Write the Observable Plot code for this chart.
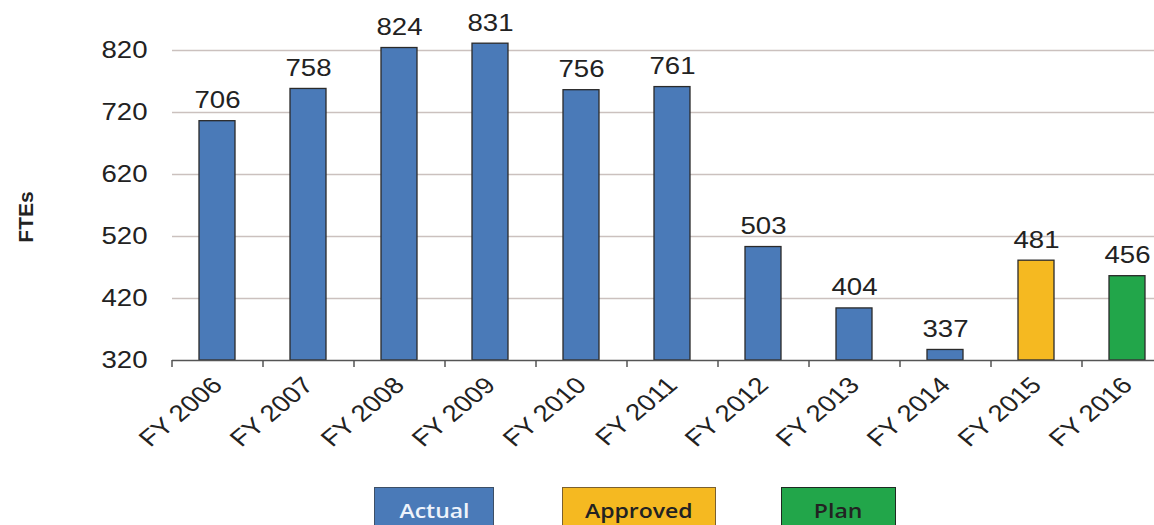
<!DOCTYPE html>
<html>
<head>
<meta charset="utf-8">
<script src="https://cdn.jsdelivr.net/npm/d3@7"></script>
<script src="https://cdn.jsdelivr.net/npm/@observablehq/plot@0.6"></script>
<style>
  html, body { margin: 0; padding: 0; background: #fff; overflow: hidden; width: 1154px; height: 525px; }
  #chart svg { overflow: hidden; display: block; }
  #legend { position: relative; height: 45px; margin-top: 7px; }
  .lg { position: absolute; top: 0; height: 42px; box-sizing: border-box; border: 1.5px solid #333;
        font-family: "Open Sans", "Noto Sans", sans-serif; font-weight: 600; font-size: 20px;
        display: flex; align-items: flex-start; justify-content: center; padding-top: 11px; line-height: 24px; }
  .lg span { display: inline-block; transform: scaleX(1.15); }
</style>
</head>
<body>
<div id="chart"></div>
<div id="legend"></div>
<script>
const years = ["FY 2006","FY 2007","FY 2008","FY 2009","FY 2010","FY 2011","FY 2012","FY 2013","FY 2014","FY 2015","FY 2016"];
const ftes = [706, 758, 824, 831, 756, 761, 503, 404, 337, 481, 456];
const status = ["Actual","Actual","Actual","Actual","Actual","Actual","Actual","Actual","Actual","Approved","Plan"];
const yTicks = [320, 420, 520, 620, 720, 820];
const legendLabels = ["Actual", "Approved", "Plan"];
const legendColors = ["#4a7ab8", "#f5b921", "#22a64a"];

const data = years.map((y, i) => ({year: y, v: ftes[i], s: status[i]}));
const base = yTicks[0];

const W = 1154, H = 480;
const mLeft = 172, mRight = -19, mTop = 19, mBottom = 120;
const step = (W - mRight - mLeft) / years.length;
const SX = 1.2; // horizontal stretch of the reference's lettering

const font = "'Liberation Sans', Arial, sans-serif";

const plot = Plot.plot({
  width: W, height: H,
  marginLeft: mLeft, marginRight: mRight, marginTop: mTop, marginBottom: mBottom,
  style: {fontFamily: font, background: "#fff", color: "#222"},
  x: {domain: years, paddingInner: 0.6, paddingOuter: 0.3, align: 0.5},
  y: {domain: [base, 870]},
  color: {domain: legendLabels, range: legendColors},
  marks: [
    Plot.ruleY(yTicks.slice(1), {stroke: "#cbc1be", strokeWidth: 1.5}),
    Plot.barY(data, {x: "year", y1: () => base, y2: "v", fill: "s", stroke: "#2a2a2a", strokeWidth: 1.3}),
    Plot.ruleY([base], {stroke: "#555", strokeWidth: 1.5}),
    Plot.ruleX(years, {x: d => d, dx: -step / 2, y1: () => base, y2: () => base, insetBottom: -7, stroke: "#555", strokeWidth: 1.5}),
    Plot.text(data, {x: "year", y: "v", text: d => String(d.v), dy: -13, lineAnchor: "bottom", fontSize: 23, fill: "#222"}),
    Plot.axisY({ticks: yTicks, tickSize: 0, tickPadding: 25, fontSize: 23, label: null, tickFormat: d => String(d)}),
    Plot.axisX({tickSize: 0, tickPadding: 21, tickRotate: -45, fontSize: 23, label: null}),
    Plot.text(["FTEs"], {frameAnchor: "left", textAnchor: "middle", rotate: -90, dx: -146, dy: 27, fontSize: 21, fontWeight: "bold", fill: "#222"})
  ]
});

// stretch lettering horizontally (screen space) like the reference
plot.querySelectorAll("text").forEach(t => {
  if (t.textContent === "FTEs") return;
  const tr = t.getAttribute("transform");
  if (tr && /translate\(/.test(tr)) {
    t.setAttribute("transform", tr.replace(/translate\([^)]*\)/, m => m + ` scale(${SX},1)`));
  } else {
    const x = +t.getAttribute("x") || 0, y = +t.getAttribute("y") || 0;
    t.removeAttribute("x"); t.removeAttribute("y");
    t.setAttribute("transform", `translate(${x},${y}) scale(${SX},1)` + (tr ? " " + tr : ""));
  }
});
document.getElementById("chart").appendChild(plot);

const legendPos = [[374, 120], [562, 154], [781, 115]];
const legendText = ["#eef3fb", "#222", "#222"];
const legendBorder = ["#3d4f66", "#7a6030", "#1e2a22"];
const lg = document.getElementById("legend");
legendLabels.forEach((lab, i) => {
  const d = document.createElement("div");
  d.className = "lg";
  d.style.left = legendPos[i][0] + "px";
  d.style.width = legendPos[i][1] + "px";
  d.style.background = legendColors[i];
  d.style.color = legendText[i];
  d.style.borderColor = legendBorder[i];
  const s = document.createElement("span");
  s.textContent = lab;
  d.appendChild(s);
  lg.appendChild(d);
});
</script>
</body>
</html>
